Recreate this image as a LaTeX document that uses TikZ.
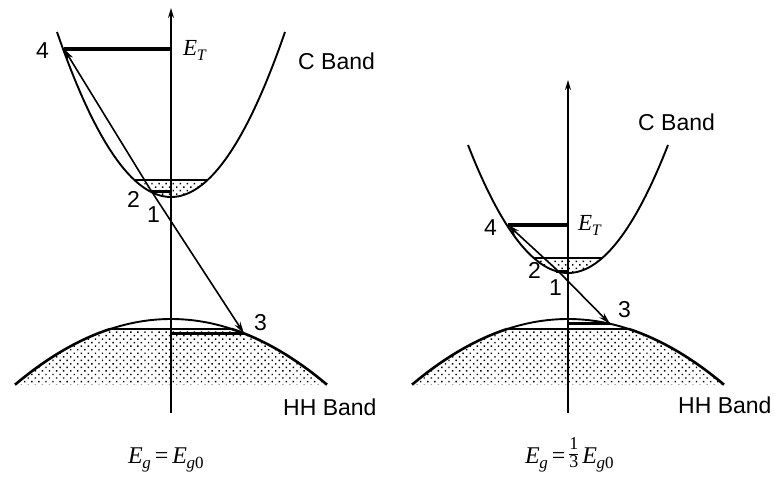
\documentclass[tikz,border=0pt]{standalone}
\usepackage{fontspec}
\setsansfont{Liberation Sans}
\newfontfamily\tms{Liberation Serif}
\usetikzlibrary{arrows.meta,patterns.meta}
\newcommand{\Esub}[2]{E\kern-0.5pt\raisebox{-5pt}{\fontsize{#1}{#1}\selectfont #2}}
\newcommand{\stackfrac}[2]{\raisebox{4pt}{\fontsize{18}{18}\selectfont\upshape\setlength{\arrayrulewidth}{0.9pt}\renewcommand{\arraystretch}{0.85}\begin{tabular}[c]{@{}c@{}}#1\\\hline #2\end{tabular}}}
\begin{document}
\begin{tikzpicture}[x=1pt,y=-1pt,
  band/.style={line width=1.9pt},
  thickband/.style={line width=2.6pt},
  level/.style={line width=3.2pt},
  flat/.style={line width=1.5pt},
  axisline/.style={line width=1.4pt,-{Stealth[length=10pt,width=6pt]}},
  trans/.style={line width=1.6pt,-{Stealth[length=12pt,width=6.5pt]}},
  dotfill/.style={pattern={Dots[angle=45,distance=5pt,radius=1pt]}},
  lbl/.style={font=\sffamily\fontsize{23}{26}\selectfont, inner sep=0pt, anchor=base west},
  mlbl/.style={font=\tms\itshape\fontsize{23}{26}\selectfont, inner sep=0pt, anchor=base west},
  flbl/.style={font=\tms\itshape\fontsize{24}{26}\selectfont, inner sep=0pt, anchor=base west}]
\useasboundingbox (0,0) rectangle (775,477);

% ================= LEFT PANEL =================
\fill[dotfill] plot[domain=134.4:207.6,samples=30] (\x,{197-(0.11269*(\x-171))^2}) -- cycle;
\draw[flat] (134.4,180) -- (207.6,180);
\draw[band] plot[domain=57:285,samples=80] (\x,{197-(0.11269*(\x-171))^2});
\draw[line width=3pt] (151,191.5) -- (171,191.5);
\fill[dotfill] plot[domain=15:110.14,samples=30] (\x,{319+(0.05196*(\x-171))^2})
  -- plot[domain=231.86:327,samples=30] (\x,{319+(0.05196*(\x-171))^2}) -- cycle;
\draw[band] plot[domain=110.14:231.86,samples=40] (\x,{319+(0.05196*(\x-171))^2});
\draw[thickband] plot[domain=15:110.14,samples=40] (\x,{319+(0.05196*(\x-171))^2});
\draw[thickband] plot[domain=231.86:327,samples=40] (\x,{319+(0.05196*(\x-171))^2});
\draw[flat] (110.14,329) -- (231.86,329);
\coordinate (c4L) at (64,48.9);
\coordinate (eL) at (171,48.9);
\coordinate (pL) at (150,189);
\coordinate (c3L) at (244,333.4);
\coordinate (vL) at (171,333.4);
\coordinate (axbL) at (171,413);
\coordinate (axtL) at (171,8);
\draw[level] (c4L) -- (eL);
\draw[line width=3pt] (vL) -- (c3L);
\draw[trans] (pL) -- (c4L);
\draw[trans] (pL) -- (c3L);
\draw[axisline] (axbL) -- (axtL);
\node[lbl] (n4L) at (36,58) {4};
\node[mlbl] (ETL) at (183,55) {\Esub{16}{T}};
\node[lbl] (CBL) at (298,69) {C Band};
\node[lbl] (n2L) at (127,207) {2};
\node[lbl] (n1L) at (147,222) {1};
\node[lbl] (n3L) at (254,330) {3};
\node[lbl] (HHL) at (283,415) {HH Band};
\node[flbl] (EgL) at (128,463) {\Esub{17}{g}\,{\upshape =}\,\Esub{17}{g\upshape 0}};

% ================= RIGHT PANEL =================
\fill[dotfill] plot[domain=533.8:602.2,samples=30] (\x,{273-(0.11314*(\x-568))^2}) -- cycle;
\draw[flat] (533.8,258) -- (602.2,258);
\draw[band] plot[domain=468:668,samples=80] (\x,{273-(0.11314*(\x-568))^2});
\draw[line width=3pt] (556,271) -- (568,271);
\fill[dotfill] plot[domain=412:507.14,samples=30] (\x,{319+(0.05196*(\x-568))^2})
  -- plot[domain=628.86:724,samples=30] (\x,{319+(0.05196*(\x-568))^2}) -- cycle;
\draw[band] plot[domain=507.14:628.86,samples=40] (\x,{319+(0.05196*(\x-568))^2});
\draw[thickband] plot[domain=412:507.14,samples=40] (\x,{319+(0.05196*(\x-568))^2});
\draw[thickband] plot[domain=628.86:724,samples=40] (\x,{319+(0.05196*(\x-568))^2});
\draw[flat] (507.14,329) -- (628.86,329);
\coordinate (c4R) at (508,225);
\coordinate (eR) at (568,225);
\coordinate (pR) at (557,270);
\coordinate (c3R) at (610,323.8);
\coordinate (vR) at (568,323.8);
\coordinate (axbR) at (568,413);
\coordinate (axtR) at (568,80);
\draw[level] (c4R) -- (eR);
\draw[line width=3pt] (vR) -- (c3R);
\draw[trans] (pR) -- (c4R);
\draw[trans] (pR) -- (c3R);
\draw[axisline] (axbR) -- (axtR);
\node[lbl] (n4R) at (484,235) {4};
\node[mlbl] (ETR) at (578,230) {\Esub{16}{T}};
\node[lbl] (CBR) at (638,130) {C Band};
\node[lbl] (n2R) at (528,278) {2};
\node[lbl] (n1R) at (549,295) {1};
\node[lbl] (n3R) at (618,317) {3};
\node[lbl] (HHR) at (678,413) {HH Band};
\node[flbl] (EgR) at (525,463) {\Esub{17}{g}\,{\upshape =}\,\stackfrac{1}{3}\,\Esub{17}{g\upshape 0}};
\end{tikzpicture}
\end{document}
